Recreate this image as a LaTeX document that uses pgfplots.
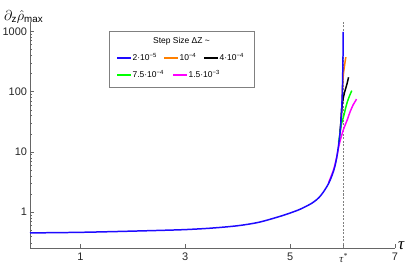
\documentclass[border=0pt]{standalone}
\usepackage{fontspec}
\setmainfont{Liberation Sans}
\newfontfamily\serif{Liberation Serif}
\usepackage{amsmath}
\usepackage{pgfplots}
\pgfplotsset{compat=1.18}
\definecolor{cblue}{RGB}{30,10,255}
\definecolor{corange}{RGB}{255,128,0}
\definecolor{cgreen}{RGB}{0,255,0}
\definecolor{cmag}{RGB}{255,0,255}
\newcommand{\legline}[1]{\textcolor{#1}{\rule[0.25em]{14bp}{2bp}}}
\begin{document}
\begin{tikzpicture}[x=1bp,y=1bp]
\useasboundingbox (0,0) rectangle (409,265);
\begin{axis}[
  at={(30bp,17bp)}, anchor=south west,
  scale only axis, width=365bp, height=226bp,
  ymode=log, xmin=0.04, xmax=7, ymin=0.255, ymax=1430,
  axis lines=left, axis line style={black!60, -, line width=0.6pt},
  xtick={1,3,5,6.02,7}, xticklabels={1,3,5,{\serif\itshape τ\textsuperscript{*}},7},
  ytick={1,10,100,1000}, yticklabels={1,10,100,1000},
  minor ytick={0.3,0.4,0.5,0.6,0.7,0.8,0.9,2,3,4,5,6,7,8,9,20,30,40,50,60,70,80,90,200,300,400,500,600,700,800,900},
  tick align=inside, major tick length=4bp, minor tick length=2bp,
  tick style={black!60, line width=0.5pt},
  ticklabel style={font=\fontsize{11}{13}\selectfont, text=black!85},
  xticklabel style={yshift=-1.5bp},
  yticklabel style={xshift=0.5bp},
  clip=false,
]
\addplot[black!50, line width=0.8pt, dash pattern=on 2bp off 1.5bp] coordinates {(6.02,0.255) (6.02,1430)};
\addplot[corange, line width=1.5pt, smooth, tension=0.4] coordinates {
(5.97,33) (5.985,55) (5.997,105) (6.01,170) (6.024,224) (6.045,300) (6.062,374)};
\addplot[black, line width=1.5pt, smooth, tension=0.4] coordinates {
(5.95,21) (5.97,33) (5.985,52) (6.0,68) (6.013,78) (6.035,95) (6.057,111) (6.085,135) (6.114,173)};
\addplot[cgreen, line width=1.5pt, smooth, tension=0.4] coordinates {
(5.924,14.3) (5.95,20) (5.975,28) (6.0,34) (6.024,40) (6.055,52) (6.089,67) (6.13,84) (6.176,104)};
\addplot[cmag, line width=1.5pt, smooth, tension=0.4] coordinates {
(5.734,3.09) (5.83,5.1) (5.89,8.3) (5.925,12) (5.955,15.5) (5.98,18.5) (6.02,24) (6.06,29.5) (6.095,35) (6.138,45) (6.2,60) (6.25,71) (6.265,75.5)};
\addplot[cblue, line width=1.5pt, smooth, tension=0.5] coordinates {
(0.04,0.454) (0.5,0.458) (1,0.464) (1.5,0.474) (2,0.486) (2.5,0.499) (3,0.515)
(3.5,0.545) (4,0.597) (4.4,0.68) (4.78,0.84) (5,0.97) (5.2,1.13)
(5.42,1.42) (5.55,1.75) (5.64,2.2) (5.734,3.0) (5.8,4.1) (5.85,5.6) (5.89,8.2) (5.924,13)
(5.95,20) (5.97,32) (5.985,55) (5.997,110) (6.005,250) (6.01,500) (6.013,980)};
\end{axis}
% axis titles
\node[anchor=west, inner sep=0] at (4,248) {\fontsize{14}{16}\selectfont $\partial_{\text{z}}\hat{\rho}_{\text{max}}$};
\node[anchor=west, inner sep=0] at (398,19) {\fontsize{17}{18}\selectfont\serif\itshape τ};
% legend
\draw[black!50, fill=white, line width=0.6pt] (109,234) rectangle (254,178);
\node[inner sep=0] at (181.5,223.3) {\fontsize{8.5}{10}\selectfont Step Size ΔZ \textasciitilde};
\begin{scope}[every node/.style={anchor=west, inner sep=0, font=\fontsize{8.5}{10}\selectfont}]
\node at (117,207.7) {\legline{cblue}\,2·10\textsuperscript{−5}};
\node at (164,207.7) {\legline{corange}\,10\textsuperscript{−4}};
\node at (204,207.7) {\legline{black}\,4·10\textsuperscript{−4}};
\node at (117,190.7) {\legline{cgreen}\,7.5·10\textsuperscript{−4}};
\node at (173,190.7) {\legline{cmag}\,1.5·10\textsuperscript{−3}};
\end{scope}
\end{tikzpicture}
\end{document}
